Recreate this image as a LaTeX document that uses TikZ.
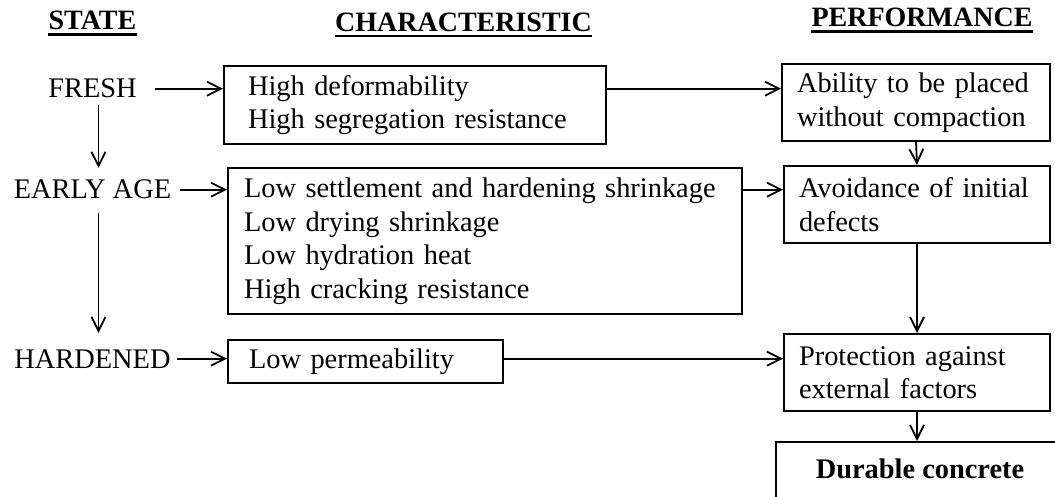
\documentclass[tikz,border=0pt]{standalone}
\usepackage{fontspec}
\setmainfont{Liberation Serif}
\usetikzlibrary{arrows.meta,calc}
\newcommand{\diagfont}{\fontsize{14.2}{16.75}\selectfont}
\tikzstyle{block}=[draw=black, line width=1pt, anchor=north west, align=left, inner ysep=0pt]
\tikzstyle{state}=[anchor=base, inner sep=3pt]
\tikzstyle{head}=[anchor=base, inner sep=0pt, font=\fontsize{14}{16}\selectfont\bfseries]
\tikzstyle{my arrow}=[-{Straight Barb[length=7pt,width=7pt]}, line width=0.9pt]

\begin{document}
\begin{tikzpicture}[x=0.5pt, y=-0.5pt, every node/.style={font=\diagfont}]
\useasboundingbox (0,0) rectangle (1055,497);
\clip (0,0) rectangle (1055,497);

% column heads
\draw (92.5,30)   node[head] (hstate) {STATE};
\draw (463.5,31.5) node[head] (hchar) {CHARACTERISTIC};
\draw (922,27)    node[head] (hperf) {PERFORMANCE};
\foreach \h in {hstate,hchar,hperf}
  \draw[line width=1.4pt] ([yshift=-2.3pt]\h.base west) -- ([yshift=-2.3pt]\h.base east);

% states
\draw (92.5,98)  node[state] (fresh) {FRESH};
\draw (92.5,199) node[state] (early) {EARLY AGE};
\draw (92.5,368) node[state] (hardened) {HARDENED};

% characteristics
\draw (223,65) node[block, minimum width=191pt, minimum height=39pt,
  inner xsep=12pt, text width=167pt] (deform)
{High deformability\\High segregation resistance};

\draw (227,167) node[block, minimum width=257pt, minimum height=73pt,
  inner xsep=8pt, text width=241pt] (shrink)
{Low settlement and hardening shrinkage\\Low drying shrinkage\\Low hydration heat\\High cracking resistance};

\draw (227,339) node[block, minimum width=137.5pt, minimum height=21.5pt,
  inner xsep=10.5pt, text width=116.5pt] (perm)
{Low permeability};

% performance
\draw (781,63) node[block, minimum width=134pt, minimum height=38.5pt,
  inner xsep=7.5pt, text width=119pt] (placed)
{Ability to be placed\\without compaction};

\draw (783,165) node[block, minimum width=133pt, minimum height=38.5pt,
  inner xsep=7.5pt, text width=118pt] (defects)
{Avoidance of initial\\defects};

\draw (783,333) node[block, minimum width=133pt, minimum height=38.5pt,
  inner xsep=7.5pt, text width=118pt] (protect)
{Protection against\\external factors};

\draw (775,441) node[block, minimum width=144pt, text height=18pt, text depth=22pt,
  font=\diagfont\bfseries] (durable)
{Durable concrete};

\draw[my arrow] ([xshift=6pt]fresh.east) -- (fresh -| deform.west);
\draw[my arrow] ([xshift=1pt]early.east) -- (early -| shrink.west);
\draw[my arrow] (hardened.east) -- (hardened -| perm.west);

\draw[my arrow] (deform.east |- fresh) -- (placed.west |- fresh);
\draw[my arrow] (shrink.east |- early) -- (defects.west |- early);
\draw[my arrow] (perm.east |- hardened) -- (protect.west |- hardened);

\draw[my arrow] ([xshift=3pt]fresh.south) -- ([xshift=3pt,yshift=3pt]early.north);
\draw[my arrow] ([xshift=3pt,yshift=-3.5pt]early.south) -- ([xshift=3pt,yshift=5pt]hardened.north);

\draw[my arrow] (placed.south) -- (defects.north);
\draw[my arrow] (defects.south) -- (protect.north);
\draw[my arrow] (protect.south) -- (protect.south |- durable.north);

\end{tikzpicture}
\end{document}
